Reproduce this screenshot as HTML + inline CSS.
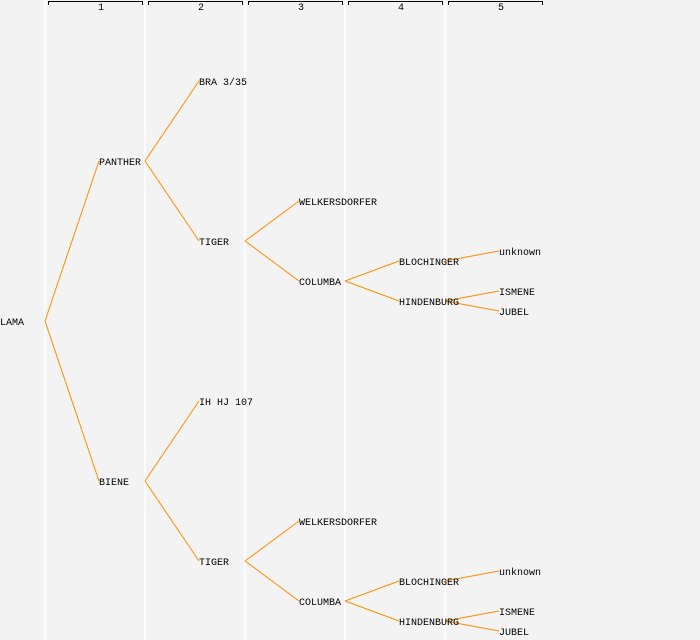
<!DOCTYPE html>
<html><head><style>
html,body{margin:0;padding:0;background:#f3f3f3;}
svg{display:block}
text{font-family:"Liberation Mono","DejaVu Sans Mono",monospace;font-size:10px;fill:#000;}
</style></head><body>
<svg width="700" height="640" viewBox="0 0 700 640">
<rect width="700" height="640" fill="#f3f3f3"/>
<g stroke="#ffffff" stroke-width="1.5">
<line x1="45" y1="0" x2="45" y2="640"/><line x1="145" y1="0" x2="145" y2="640"/>
<line x1="245" y1="0" x2="245" y2="640"/><line x1="345" y1="0" x2="345" y2="640"/>
<line x1="445" y1="0" x2="445" y2="640"/>
</g>
<g stroke="#000" stroke-width="1" fill="none">
<path d="M48.5,5V1.5H142.5V5"/><path d="M148.5,5V1.5H242.5V5"/><path d="M248.5,5V1.5H342.5V5"/><path d="M348.5,5V1.5H442.5V5"/><path d="M448.5,5V1.5H542.5V5"/>
</g>
<g style="font-size:8px" text-anchor="middle">
<text x="101" y="10">1</text><text x="201" y="10">2</text><text x="301" y="10">3</text><text x="401" y="10">4</text><text x="501" y="10">5</text>
</g>
<g stroke="#ff8c00" stroke-width="1" fill="none">
<path d="M45,321L99,161M45,321L99,481"/>
<path d="M145,161L199,81M145,161L199,241M145,481L199,401M145,481L199,561"/>
<path d="M245,241L299,201M245,241L299,281M245,561L299,521M245,561L299,601"/>
<path d="M345,281L399,261M345,281L399,301M345,601L399,581M345,601L399,621"/>
<path d="M445,261L499,251M445,301L499,291M445,301L499,311M445,581L499,571M445,621L499,611M445,621L499,631"/>
</g>
<g>
<text x="0" y="325">LAMA</text>
<text x="99" y="165">PANTHER</text><text x="99" y="485">BIENE</text>
<text x="199" y="85">BRA 3/35</text><text x="199" y="245">TIGER</text>
<text x="199" y="405">IH HJ 107</text><text x="199" y="565">TIGER</text>
<text x="299" y="205">WELKERSDORFER</text><text x="299" y="285">COLUMBA</text>
<text x="299" y="525">WELKERSDORFER</text><text x="299" y="605">COLUMBA</text>
<text x="399" y="265">BLOCHINGER</text><text x="399" y="305">HINDENBURG</text>
<text x="399" y="585">BLOCHINGER</text><text x="399" y="625">HINDENBURG</text>
<text x="499" y="255">unknown</text><text x="499" y="295">ISMENE</text><text x="499" y="315">JUBEL</text>
<text x="499" y="575">unknown</text><text x="499" y="615">ISMENE</text><text x="499" y="635">JUBEL</text>
</g>
</svg>
</body></html>
